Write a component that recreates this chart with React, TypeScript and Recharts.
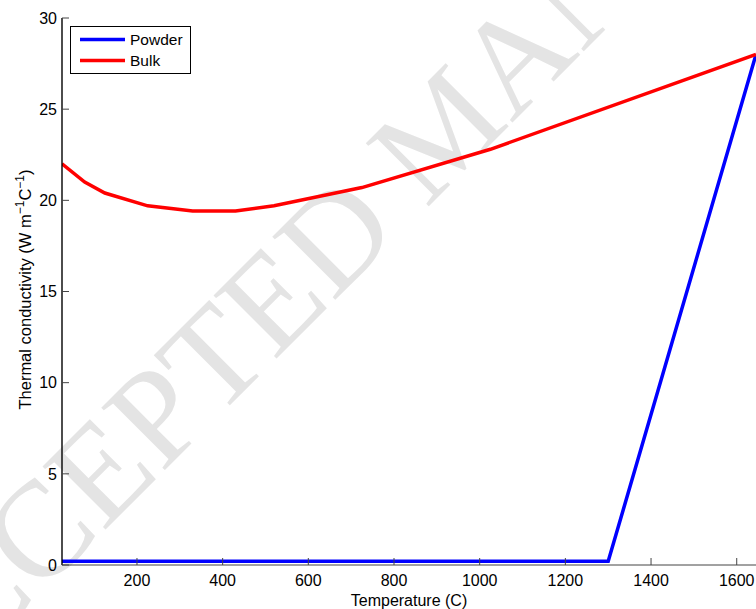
import React from 'react';
import { LineChart, Line, XAxis, YAxis, Legend } from 'recharts';

// Temperature (C) / thermal conductivity (W m^-1 C^-1)
const powderTemp = [25, 1300, 1645];
const powderK = [0.2, 0.2, 28.0];

const bulkTemp = [25, 78, 125, 225, 330, 430, 520, 725, 1025, 1645];
const bulkK = [22.0, 21.0, 20.4, 19.7, 19.42, 19.42, 19.7, 20.7, 22.8, 28.0];

const xTicks = [200, 400, 600, 800, 1000, 1200, 1400, 1600];
const yTicks = [0, 5, 10, 15, 20, 25, 30];

const seriesOrder = ['Powder', 'Bulk'];

const powderData = powderTemp.map((t, i) => ({ t, k: powderK[i] }));
const bulkData = bulkTemp.map((t, i) => ({ t, k: bulkK[i] }));

const FONT = '"Liberation Sans", Arial, Helvetica, sans-serif';
const tickStyle = { fontSize: 16, fill: '#000', fontFamily: FONT };

const YLabel = (props: any) => {
  const { viewBox } = props;
  const x = 31;
  const y = viewBox.y + viewBox.height / 2 - 2;
  return (
    <text
      x={x}
      y={y}
      transform={`rotate(-90, ${x}, ${y})`}
      textAnchor="middle"
      fontSize={16.5}
      fontFamily={FONT}
      fill="#000"
    >
      Thermal conductivity (W m
      <tspan dy={-7} fontSize={12}>−1</tspan>
      <tspan dy={7}>C</tspan>
      <tspan dy={-7} fontSize={12}>−1</tspan>
      <tspan dy={7}>)</tspan>
    </text>
  );
};

const LegendBox = (props: any) => {
  const items = [...(props.payload || [])].sort(
    (a: any, b: any) => seriesOrder.indexOf(a.value) - seriesOrder.indexOf(b.value)
  );
  return (
    <div
      style={{
        width: 119,
        height: 44,
        paddingTop: 2,
        border: '1px solid #000',
        background: '#fff',
        fontFamily: FONT,
        fontSize: 15.5,
        color: '#000',
        boxSizing: 'content-box',
      }}
    >
      {items.map((p: any) => (
        <div key={p.value} style={{ display: 'flex', alignItems: 'center', height: 21 }}>
          <svg width={59} height={21}>
            <line x1={9} x2={54} y1={10.5} y2={10.5} stroke={p.color} strokeWidth={3.5} />
          </svg>
          <span style={{ lineHeight: '21px' }}>{p.value}</span>
        </div>
      ))}
    </div>
  );
};

const Watermark = () => (
  <svg width={756} height={609} style={{ position: 'absolute', left: 0, top: 0 }}>
    <text
      x={-95}
      y={730}
      transform="rotate(-45, -95, 730)"
      fontFamily='"Liberation Serif", "Times New Roman", serif'
      fontSize={136}
      fill="#e4e4e4"
    >
      ACCEPTED MANUSCRIPT
    </text>
  </svg>
);

export default function App() {
  return (
    <div
      style={{
        position: 'absolute',
        left: 0,
        top: 0,
        width: 756,
        height: 609,
        overflow: 'hidden',
        background: '#fff',
      }}
    >
      <Watermark />
      <div style={{ position: 'absolute', left: 0, top: 0 }}>
        <LineChart width={756} height={609} margin={{ top: 18, right: 0, bottom: 0, left: 0 }}>
          <XAxis
            dataKey="t"
            type="number"
            domain={[25, 1645]}
            ticks={xTicks}
            allowDataOverflow
            height={44}
            tickSize={-7}
            tickMargin={17}
            tick={tickStyle}
            stroke="#444"
            tickLine={{ stroke: '#444' }}
            label={{
              value: 'Temperature (C)',
              position: 'insideBottom',
              offset: 3,
              style: { fontSize: 16, fill: '#000', fontFamily: FONT },
            }}
          />
          <XAxis
            xAxisId="top"
            orientation="top"
            dataKey="t"
            type="number"
            domain={[25, 1645]}
            ticks={xTicks}
            allowDataOverflow
            height={0}
            tickSize={-7}
            tick={false}
            stroke="#555"
            tickLine={{ stroke: '#555' }}
          />
          <YAxis
            type="number"
            domain={[0, 30]}
            ticks={yTicks}
            width={62}
            tickSize={-7}
            tickMargin={12}
            tick={tickStyle}
            axisLine={{ stroke: '#000', strokeWidth: 1.4 }}
            tickLine={{ stroke: '#444' }}
            label={<YLabel />}
          />
          <Legend
            layout="vertical"
            verticalAlign="middle"
            align="center"
            wrapperStyle={{ position: 'absolute', left: 70, top: 26, width: 'auto', height: 'auto' }}
            content={<LegendBox />}
          />
          <Line
            data={powderData}
            dataKey="k"
            name="Powder"
            type="linear"
            stroke="#0000ff"
            strokeWidth={3.5}
            dot={false}
            activeDot={false}
            isAnimationActive={false}
          />
          <Line
            data={bulkData}
            dataKey="k"
            name="Bulk"
            type="linear"
            stroke="#ff0000"
            strokeWidth={3.5}
            dot={false}
            activeDot={false}
            isAnimationActive={false}
          />
        </LineChart>
      </div>
    </div>
  );
}
